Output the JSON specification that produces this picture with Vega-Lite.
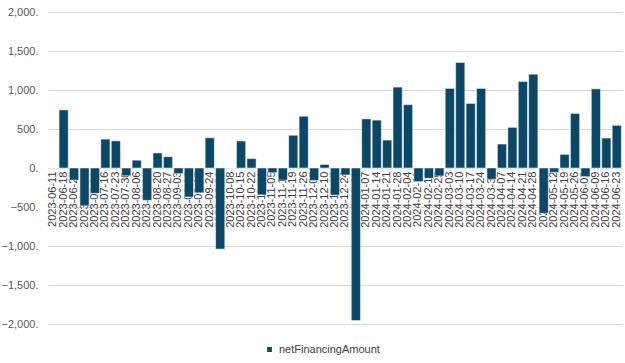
{
  "$schema": "https://vega.github.io/schema/vega-lite/v6.json",
  "width": 574,
  "height": 312,
  "autosize": {"type": "none"},
  "padding": {"left": 48, "top": 12, "right": 3, "bottom": 39},
  "background": "white",
  "config": {"view": {"stroke": null}, "font": "Liberation Sans"},
  "data": {"values": [
    {"week": "2023-06-11", "netFinancingAmount": 0},
    {"week": "2023-06-18", "netFinancingAmount": 745},
    {"week": "2023-06-25", "netFinancingAmount": -155},
    {"week": "2023-07-02", "netFinancingAmount": -485},
    {"week": "2023-07-09", "netFinancingAmount": -325},
    {"week": "2023-07-16", "netFinancingAmount": 370},
    {"week": "2023-07-23", "netFinancingAmount": 348},
    {"week": "2023-07-30", "netFinancingAmount": -100},
    {"week": "2023-08-06", "netFinancingAmount": 100},
    {"week": "2023-08-13", "netFinancingAmount": -415},
    {"week": "2023-08-20", "netFinancingAmount": 192},
    {"week": "2023-08-27", "netFinancingAmount": 145},
    {"week": "2023-09-03", "netFinancingAmount": -70},
    {"week": "2023-09-10", "netFinancingAmount": -372},
    {"week": "2023-09-17", "netFinancingAmount": -318},
    {"week": "2023-09-24", "netFinancingAmount": 388},
    {"week": "2023-10-01", "netFinancingAmount": -1040},
    {"week": "2023-10-08", "netFinancingAmount": 0},
    {"week": "2023-10-15", "netFinancingAmount": 346},
    {"week": "2023-10-22", "netFinancingAmount": 120},
    {"week": "2023-10-29", "netFinancingAmount": -345},
    {"week": "2023-11-05", "netFinancingAmount": -60},
    {"week": "2023-11-12", "netFinancingAmount": -155},
    {"week": "2023-11-19", "netFinancingAmount": 420},
    {"week": "2023-11-26", "netFinancingAmount": 665},
    {"week": "2023-12-03", "netFinancingAmount": -160},
    {"week": "2023-12-10", "netFinancingAmount": 45},
    {"week": "2023-12-17", "netFinancingAmount": -348},
    {"week": "2023-12-24", "netFinancingAmount": -90},
    {"week": "2023-12-31", "netFinancingAmount": -1955},
    {"week": "2024-01-07", "netFinancingAmount": 630},
    {"week": "2024-01-14", "netFinancingAmount": 614},
    {"week": "2024-01-21", "netFinancingAmount": 358},
    {"week": "2024-01-28", "netFinancingAmount": 1037},
    {"week": "2024-02-04", "netFinancingAmount": 812},
    {"week": "2024-02-11", "netFinancingAmount": -175},
    {"week": "2024-02-18", "netFinancingAmount": -132},
    {"week": "2024-02-25", "netFinancingAmount": -102},
    {"week": "2024-03-03", "netFinancingAmount": 1020},
    {"week": "2024-03-10", "netFinancingAmount": 1352},
    {"week": "2024-03-17", "netFinancingAmount": 828},
    {"week": "2024-03-24", "netFinancingAmount": 1020},
    {"week": "2024-03-31", "netFinancingAmount": -145},
    {"week": "2024-04-07", "netFinancingAmount": 307},
    {"week": "2024-04-14", "netFinancingAmount": 521},
    {"week": "2024-04-21", "netFinancingAmount": 1110},
    {"week": "2024-04-28", "netFinancingAmount": 1203},
    {"week": "2024-05-05", "netFinancingAmount": -580},
    {"week": "2024-05-12", "netFinancingAmount": -55},
    {"week": "2024-05-19", "netFinancingAmount": 175},
    {"week": "2024-05-26", "netFinancingAmount": 700},
    {"week": "2024-06-02", "netFinancingAmount": -110},
    {"week": "2024-06-09", "netFinancingAmount": 1015},
    {"week": "2024-06-16", "netFinancingAmount": 384},
    {"week": "2024-06-23", "netFinancingAmount": 547}
  ]},
  "mark": {"type": "bar", "stroke": "white", "strokeWidth": 0.5},
  "encoding": {
    "x": {
      "field": "week",
      "type": "ordinal",
      "scale": {"paddingInner": 0.12, "paddingOuter": 0.06},
      "axis": {
        "title": null,
        "offset": -156,
        "domain": false,
        "ticks": false,
        "labelAngle": -90,
        "labelPadding": 3,
        "labelFontSize": 11,
        "labelColor": "#404040",
        "labelOverlap": false
      }
    },
    "y": {
      "field": "netFinancingAmount",
      "type": "quantitative",
      "scale": {"domain": [-2000, 2000], "nice": false},
      "axis": {
        "title": null,
        "values": [-2000, -1500, -1000, -500, 0, 500, 1000, 1500, 2000],
        "labelExpr": "format(datum.value, ',') + '.'",
        "domain": false,
        "ticks": false,
        "labelPadding": 10,
        "labelFontSize": 11,
        "labelColor": "#595959",
        "gridColor": "#d9d9d9",
        "gridWidth": 1
      }
    },
    "color": {
      "datum": "netFinancingAmount",
      "type": "nominal",
      "scale": {"range": ["#0b4868"]},
      "legend": {
        "title": null,
        "orient": "none",
        "legendX": 216,
        "legendY": 332,
        "padding": 0,
        "symbolType": "square",
        "symbolSize": 40,
        "labelFontSize": 11,
        "labelColor": "#404040"
      }
    }
  }
}
